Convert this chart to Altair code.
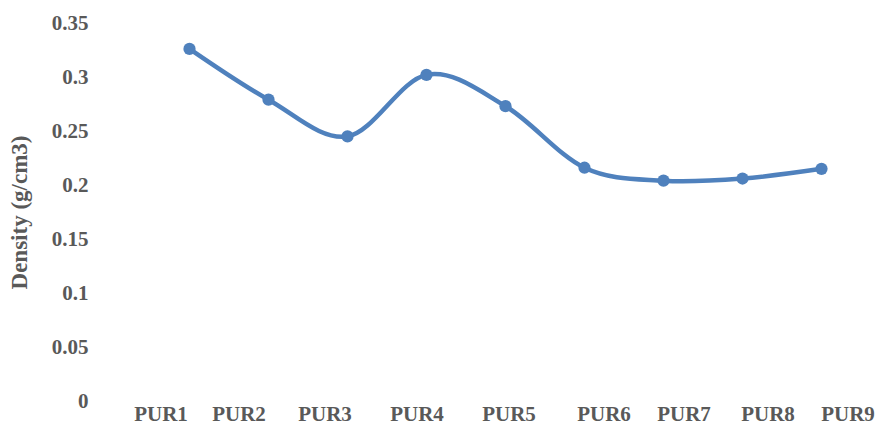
import altair as alt
import pandas as pd

# Density of each polyurethane sample
samples = ["PUR1", "PUR2", "PUR3", "PUR4", "PUR5", "PUR6", "PUR7", "PUR8", "PUR9"]
density = [0.326, 0.279, 0.245, 0.302, 0.273, 0.216, 0.204, 0.206, 0.215]

# horizontal nudge of each category label (pixels)
label_shift = [-29, -30, -23, -10, 3, 19, 20, 25, 26]

df = pd.DataFrame({"sample": samples, "density": density})

shift_expr = "[" + ",".join(str(v) for v in label_shift) + "][indexof(" + \
    "[" + ",".join("'" + s + "'" for s in samples) + "], datum.value)]"

FONT = "Liberation Serif"
GREY = "#595959"
BLUE = "#4F81BD"

x = alt.X(
    "sample:N",
    sort=samples,
    scale=alt.Scale(paddingInner=1, paddingOuter=0.5),
    axis=alt.Axis(
        title=None,
        domain=False,
        ticks=False,
        tickSize=0,
        grid=False,
        labelAngle=0,
        labelFont=FONT,
        labelFontSize=21,
        labelFontWeight="bold",
        labelColor=GREY,
        labelBaseline="alphabetic",
        labelPadding=19,
        labelOffset=alt.ExprRef(shift_expr),
    ),
)

y = alt.Y(
    "density:Q",
    scale=alt.Scale(domain=[0, 0.35], nice=False, zero=True),
    axis=alt.Axis(
        title="Density (g/cm3)",
        values=[0, 0.05, 0.1, 0.15, 0.2, 0.25, 0.3, 0.35],
        format="~g",
        domain=False,
        ticks=False,
        tickSize=0,
        grid=False,
        labelFont=FONT,
        labelFontSize=21,
        labelFontWeight="bold",
        labelColor=GREY,
        labelPadding=62,
        titleFont=FONT,
        titleFontSize=23,
        titleFontWeight="bold",
        titleColor=GREY,
        titlePadding=20,
    ),
)

base = alt.Chart(df).encode(x=x, y=y)

line = base.mark_line(color=BLUE, strokeWidth=4.5, interpolate="cardinal")
dots = base.mark_point(filled=True, color=BLUE, size=150, opacity=1)

chart = (
    (line + dots)
    .properties(
        width=711,
        height=378,
        autosize=alt.AutoSizeParams(type="none"),
        padding={"left": 150, "top": 23, "right": 20, "bottom": 23},
    )
    .configure(background="white")
    .configure_view(strokeWidth=0, stroke="transparent")
)

chart.save("out.html", embed_options={"renderer": "svg", "actions": False})
